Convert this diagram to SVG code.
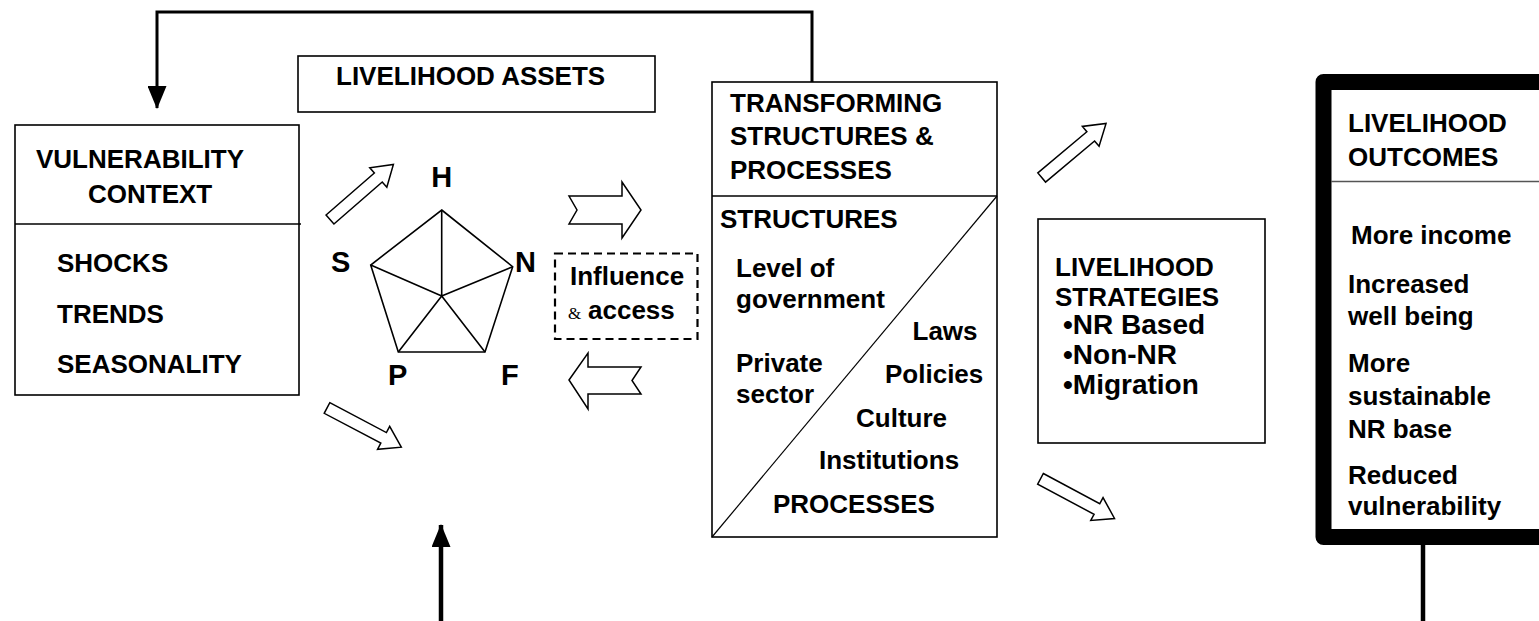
<svg xmlns="http://www.w3.org/2000/svg" xmlns:xlink="http://www.w3.org/1999/xlink" width="1539" height="621" viewBox="0 0 1539 621">
<style>
  .box { fill: #fff; stroke: #000; stroke-width: 1.6; }
  .line { stroke: #000; stroke-width: 1.6; fill: none; }
  .t { font-family: "Liberation Sans", Arial, sans-serif; font-weight: bold; font-size: 26px; fill: #000; }
  .big { font-size: 29px; }
  .bul { font-size: 28px; }
  .amp { font-family: "Liberation Serif", "Times New Roman", serif; font-size: 17px; font-weight: normal; fill: #000; }
  .hollow { fill: #fff; stroke: #000; stroke-width: 1.5; stroke-linejoin: miter; }
  .conn { stroke: #000; fill: none; }
</style>
<defs>
  <path id="harrow" d="M0,-6 L64,-6 L64,-13 L84,0 L64,13 L64,6 L0,6 Z"/>
  <marker id="head" markerUnits="userSpaceOnUse" markerWidth="23" markerHeight="19" viewBox="0 0 23 19" refX="22" refY="9.5" orient="auto">
    <path d="M0,0 L23,9.5 L0,19 Z" fill="#000"/>
  </marker>
</defs>

<g id="connectors">
  <path class="conn" stroke-width="3" d="M812,82 V12 H157 V108" marker-end="url(#head)"/>
  <path class="conn" stroke-width="4.5" d="M441,621 V525" marker-end="url(#head)"/>
  <path class="conn" stroke-width="4.5" d="M1423,545 V621"/>
  <use href="#harrow" class="hollow" transform="translate(330,219.5) rotate(-41)"/>
  <use href="#harrow" class="hollow" transform="translate(327,408) rotate(27.8)"/>
  <use href="#harrow" class="hollow" transform="translate(1041.7,177.5) rotate(-40)"/>
  <use href="#harrow" class="hollow" transform="translate(1040.5,478.8) rotate(28.2)"/>
  <polygon class="hollow" points="569,196 622,196 622,182 641,210 622,238 622,224 569,224 577,210"/>
  <polygon class="hollow" points="569,380 588,353 588,367 641,367 632,380.5 641,394 588,394 588,409"/>
</g>

<g id="vulnerability-context">
  <rect class="box" x="15" y="125" width="284" height="270"/>
  <line class="line" x1="15" y1="224" x2="301" y2="224"/>
  <text class="t" x="36" y="168">VULNERABILITY</text>
  <text class="t" x="88" y="203">CONTEXT</text>
  <text class="t" x="57" y="272">SHOCKS</text>
  <text class="t" x="57" y="323">TRENDS</text>
  <text class="t" x="57" y="373">SEASONALITY</text>
</g>

<g id="livelihood-assets">
  <rect class="box" x="298" y="56" width="357" height="56"/>
  <text class="t" x="336" y="85">LIVELIHOOD ASSETS</text>
</g>

<g id="asset-pentagon">
  <polygon class="line" points="441.7,210 512.7,266.7 485,352 398.3,352 370.7,265"/>
  <path class="line" d="M441.7,296 L441.7,210 M441.7,296 L512.7,266.7 M441.7,296 L485,352 M441.7,296 L398.3,352 M441.7,296 L370.7,265"/>
  <text class="t big" x="441.7" y="187" text-anchor="middle">H</text>
  <text class="t big" x="331" y="272">S</text>
  <text class="t big" x="515" y="272">N</text>
  <text class="t big" x="388" y="385">P</text>
  <text class="t big" x="501" y="385">F</text>
</g>

<g id="influence-access">
  <rect x="555" y="253.5" width="142.5" height="85.5" fill="#fff" stroke="#000" stroke-width="2.2" stroke-dasharray="8 5"/>
  <text class="t" x="570" y="285">Influence</text>
  <text class="amp" x="568" y="319">&amp;</text>
  <text class="t" x="588" y="319">access</text>
</g>

<g id="transforming-structures">
  <rect class="box" x="712" y="82" width="285" height="455"/>
  <line class="line" x1="712" y1="196" x2="997" y2="196"/>
  <line x1="712" y1="537" x2="997" y2="196" stroke="#000" stroke-width="1.2"/>
  <text class="t" x="730" y="112">TRANSFORMING</text>
  <text class="t" x="730" y="145">STRUCTURES &amp;</text>
  <text class="t" x="730" y="179">PROCESSES</text>
  <text class="t" x="720" y="228">STRUCTURES</text>
  <text class="t" x="736" y="277">Level of</text>
  <text class="t" x="736" y="308">government</text>
  <text class="t" x="912.5" y="340">Laws</text>
  <text class="t" x="736" y="372">Private</text>
  <text class="t" x="885" y="383">Policies</text>
  <text class="t" x="736" y="403">sector</text>
  <text class="t" x="856" y="427">Culture</text>
  <text class="t" x="819" y="469">Institutions</text>
  <text class="t" x="773" y="513">PROCESSES</text>
</g>

<g id="livelihood-strategies">
  <rect class="box" x="1038" y="219" width="227" height="224"/>
  <text class="t" x="1055" y="276">LIVELIHOOD</text>
  <text class="t" x="1055" y="306">STRATEGIES</text>
  <text class="t bul" x="1063" y="334">•NR Based</text>
  <text class="t bul" x="1063" y="364">•Non-NR</text>
  <text class="t bul" x="1063" y="394">•Migration</text>
</g>

<g id="livelihood-outcomes">
  <rect x="1323.5" y="82" width="300" height="455" fill="#fff" stroke="#000" stroke-width="16" stroke-linejoin="round"/>
  <line x1="1331" y1="181.5" x2="1539" y2="181.5" stroke="#555" stroke-width="1.6"/>
  <text class="t" x="1348" y="131.5">LIVELIHOOD</text>
  <text class="t" x="1348" y="165.5">OUTCOMES</text>
  <text class="t" x="1351" y="244">More income</text>
  <text class="t" x="1348" y="292.5">Increased</text>
  <text class="t" x="1348" y="325">well being</text>
  <text class="t" x="1348" y="372">More</text>
  <text class="t" x="1348" y="405">sustainable</text>
  <text class="t" x="1348" y="437.5">NR base</text>
  <text class="t" x="1348" y="484">Reduced</text>
  <text class="t" x="1348" y="515">vulnerability</text>
</g>
</svg>
